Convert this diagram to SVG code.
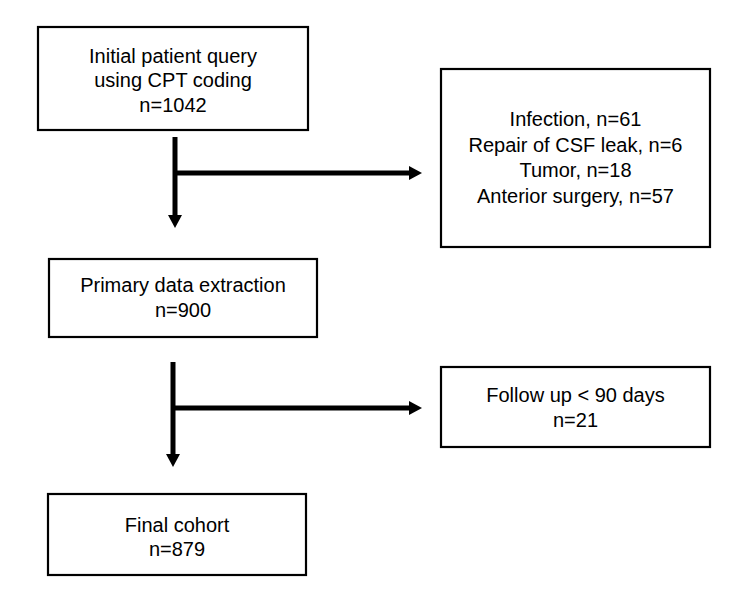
<svg xmlns="http://www.w3.org/2000/svg" width="750" height="598" viewBox="0 0 750 598">
<defs>
<style>
.box{fill:#fff;stroke:#000;stroke-width:2.2}
.t{font-family:"Liberation Sans",Arial,sans-serif;font-size:20px;fill:#000;text-anchor:middle}
.ln{stroke:#000;stroke-width:5;fill:none}
</style>
<marker id="ah" markerUnits="userSpaceOnUse" markerWidth="13" markerHeight="14" viewBox="0 0 13 14" refX="1" refY="7" orient="auto">
<path d="M0,0 L13,7 L0,14 Z" fill="#000"/>
</marker>
</defs>
<rect width="750" height="598" fill="#fff"/>
<g id="connectors">
<line class="ln" x1="175" y1="137" x2="175" y2="216" marker-end="url(#ah)"/>
<line class="ln" x1="175" y1="173" x2="410" y2="173" marker-end="url(#ah)"/>
<line class="ln" x1="173" y1="362" x2="173" y2="455" marker-end="url(#ah)"/>
<line class="ln" x1="173" y1="408" x2="410" y2="408" marker-end="url(#ah)"/>
</g>
<g id="n1">
<rect class="box" x="38" y="27" width="270" height="103"/>
<text class="t" x="173" y="63">Initial patient query</text>
<text class="t" x="173" y="87">using CPT coding</text>
<text class="t" x="173" y="112">n=1042</text>
</g>
<g id="n2">
<rect class="box" x="441" y="69" width="269" height="178"/>
<text class="t" x="575.5" y="126">Infection, n=61</text>
<text class="t" x="575.5" y="152">Repair of CSF leak, n=6</text>
<text class="t" x="575.5" y="177">Tumor, n=18</text>
<text class="t" x="575.5" y="203">Anterior surgery, n=57</text>
</g>
<g id="n3">
<rect class="box" x="49" y="259" width="268" height="78"/>
<text class="t" x="183" y="292">Primary data extraction</text>
<text class="t" x="183" y="317">n=900</text>
</g>
<g id="n4">
<rect class="box" x="441" y="367" width="269" height="80"/>
<text class="t" x="575.5" y="402">Follow up &lt; 90 days</text>
<text class="t" x="575.5" y="427">n=21</text>
</g>
<g id="n5">
<rect class="box" x="48" y="494" width="258" height="81"/>
<text class="t" x="177" y="532">Final cohort</text>
<text class="t" x="177" y="556">n=879</text>
</g>
</svg>
